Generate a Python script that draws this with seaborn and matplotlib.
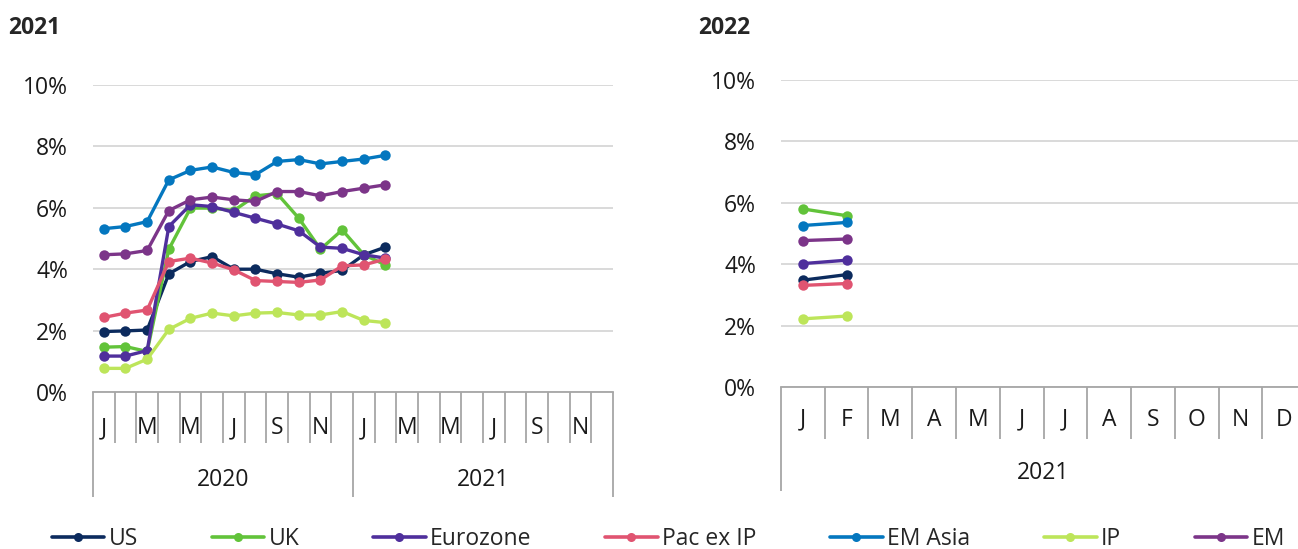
import numpy as np
import pandas as pd
import seaborn as sns
import matplotlib.pyplot as plt
sns.set_theme(style="white")
plt.rcParams['font.family'] = ['Open Sans', 'DejaVu Sans']
plt.rcParams['font.size'] = 16.5

# series names and colours
names = ["US", "UK", "Eurozone", "Pac ex IP", "EM Asia", "IP", "EM"]
colors = ["#0c2b5e", "#62c33a", "#4f2f9c", "#e05471", "#0477bf", "#bde55a", "#7c3589"]

# left panel: 2021 forecasts, Jan 2020 .. Feb 2021
us_21 = [1.97, 1.99, 2.02, 3.85, 4.25, 4.41, 4.00, 4.00, 3.85, 3.74, 3.87, 3.96, 4.47, 4.72]
uk_21 = [1.46, 1.48, 1.32, 4.65, 5.99, 5.99, 5.91, 6.39, 6.46, 5.66, 4.65, 5.28, 4.47, 4.14]
ez_21 = [1.17, 1.17, 1.35, 5.39, 6.10, 6.04, 5.85, 5.66, 5.47, 5.25, 4.72, 4.68, 4.47, 4.36]
pac_21 = [2.43, 2.57, 2.67, 4.25, 4.36, 4.20, 3.98, 3.63, 3.60, 3.57, 3.65, 4.11, 4.14, 4.33]
ema_21 = [5.32, 5.39, 5.55, 6.91, 7.22, 7.33, 7.15, 7.08, 7.51, 7.57, 7.43, 7.51, 7.59, 7.71]
ip_21 = [0.77, 0.77, 1.07, 2.04, 2.40, 2.57, 2.48, 2.57, 2.59, 2.51, 2.51, 2.62, 2.33, 2.26]
em_21 = [4.47, 4.50, 4.61, 5.91, 6.26, 6.35, 6.26, 6.21, 6.53, 6.53, 6.39, 6.53, 6.64, 6.75]

# right panel: 2022 forecasts, Jan 2021 .. Feb 2021
us_22 = [3.48, 3.66]
uk_22 = [5.80, 5.58]
ez_22 = [4.02, 4.13]
pac_22 = [3.31, 3.37]
ema_22 = [5.26, 5.36]
ip_22 = [2.22, 2.31]
em_22 = [4.77, 4.82]

left_months = ["J", "", "M", "", "M", "", "J", "", "S", "", "N", ""] * 2
left_years = ["2020", "2021"]
right_months = ["J", "F", "M", "A", "M", "J", "J", "A", "S", "O", "N", "D"]
right_years = ["2021"]
yticks = [0, 2, 4, 6, 8, 10]


def long_df(series):
    rows = []
    for name, vals in zip(names, series):
        for i, v in enumerate(vals):
            rows.append({"idx": i, "value": v, "series": name})
    return pd.DataFrame(rows)


df21 = long_df([us_21, uk_21, ez_21, pac_21, ema_21, ip_21, em_21])
df22 = long_df([us_22, uk_22, ez_22, pac_22, ema_22, ip_22, em_22])

fig = plt.figure(figsize=(12.98, 5.49), dpi=100)
ax1 = fig.add_axes([93/1298, 1-392/549, 520/1298, 307/549])
ax2 = fig.add_axes([781/1298, 1-387/549, 525/1298, 307/549])


def draw(ax, df, months, years, month_y, year_y, short_y, long_y, show_legend):
    sns.lineplot(data=df, x="idx", y="value", hue="series", hue_order=names,
                 palette=colors, marker="o", markersize=7.5, markeredgewidth=0,
                 linewidth=2.4, ax=ax, legend=show_legend)
    n = len(months)
    ax.set_xlim(-0.5, n - 0.5)
    ax.set_ylim(0, 10)
    ax.set_yticks(yticks)
    ax.set_yticklabels([f"{t}%" for t in yticks])
    ax.tick_params(axis="y", length=0, pad=18, labelsize=16.5, labelcolor="#1a1a1a")
    ax.set_xticks([])
    ax.set_xlabel("")
    ax.set_ylabel("")
    ax.yaxis.grid(True, color="#d9d9d9", lw=1.4)
    for s in ["top", "right", "left"]:
        ax.spines[s].set_visible(False)
    ax.spines["bottom"].set_color("#a6a6a6")
    ax.spines["bottom"].set_linewidth(1.3)
    tr = ax.get_xaxis_transform()
    for i, m in enumerate(months):
        if m:
            ax.text(i, month_y, m, transform=tr, ha="center", va="center",
                    fontsize=16.5, color="#1a1a1a")
    per = n // len(years)
    for k, y in enumerate(years):
        ax.text(k*per + per/2 - 0.5, year_y, y, transform=tr, ha="center",
                va="center", fontsize=16.5, color="#1a1a1a")
    bounds = np.arange(n + 1) - 0.5
    longs = [b for j, b in enumerate(bounds) if j % per == 0]
    shorts = [b for j, b in enumerate(bounds) if j % per != 0]
    ax.vlines(shorts, short_y, 0, transform=tr, colors="#a6a6a6", lw=1.3, clip_on=False)
    ax.vlines(longs, long_y, 0, transform=tr, colors="#a6a6a6", lw=1.3, clip_on=False)


draw(ax1, df21, left_months, left_years, -0.117, -0.287, -0.166, -0.342, True)
draw(ax2, df22, right_months, right_years, -0.107, -0.280, -0.169, -0.339, False)

handles, labels = ax1.get_legend_handles_labels()
ax1.get_legend().remove()
for h in handles:
    h.set_markersize(6.5)
    h.set_linewidth(2.6)
fig.legend(handles, labels, loc="center", bbox_to_anchor=(0.515, 0.018), ncol=7,
           frameon=False, handlelength=2.3, handletextpad=0.2, columnspacing=3.2,
           fontsize=16.5)

fig.text(8/1298, 1-28/549, "2021", fontsize=16.5, fontweight="bold", va="center", ha="left")
fig.text(698/1298, 1-28/549, "2022", fontsize=16.5, fontweight="bold", va="center", ha="left")

fig.savefig("out.png", dpi=100)
